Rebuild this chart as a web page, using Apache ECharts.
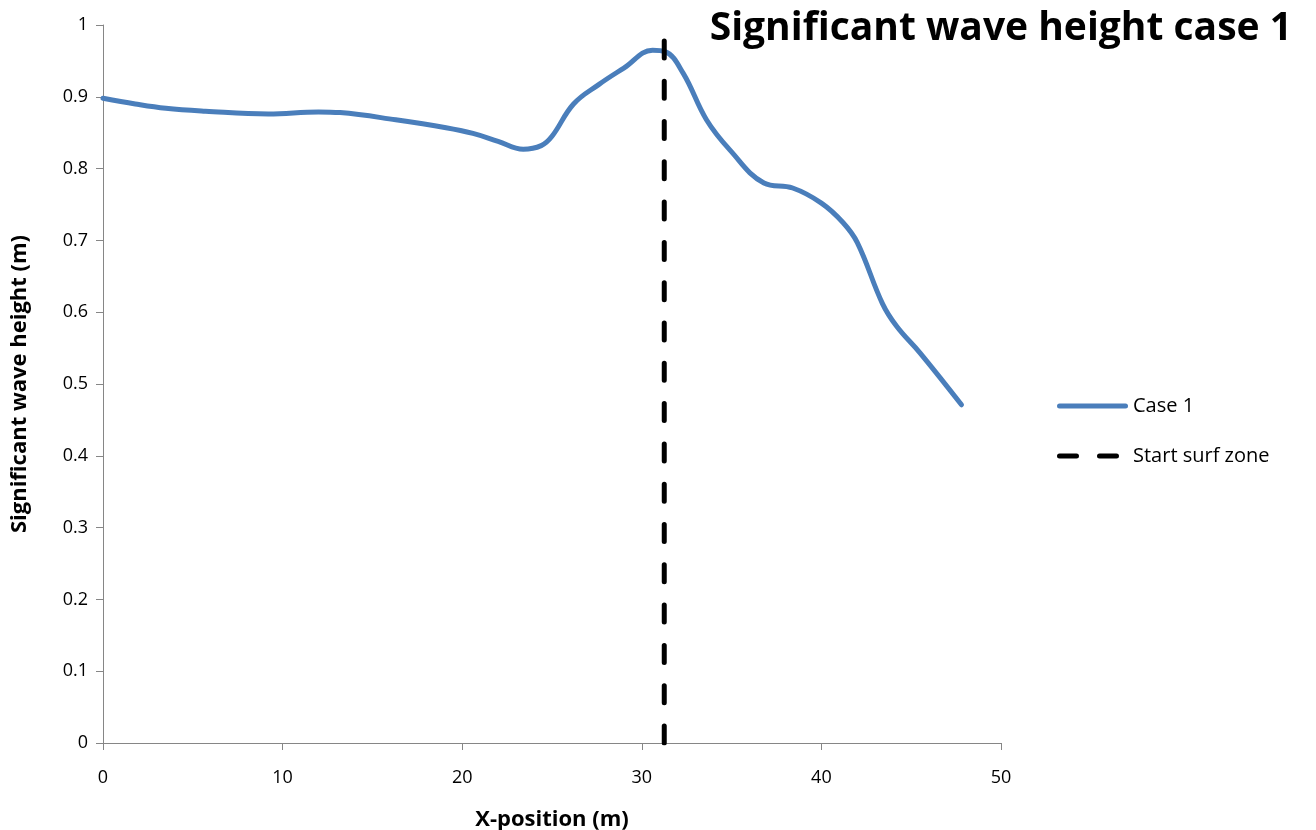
<!DOCTYPE html>
<html>
<head>
<meta charset="utf-8">
<title>Significant wave height case 1</title>
<script src="https://cdn.jsdelivr.net/npm/echarts@6/dist/echarts.min.js"></script>
<style>
  html, body { margin: 0; padding: 0; background: #ffffff; }
  #chart { width: 1316px; height: 830px; }
</style>
</head>
<body>
<div id="chart"></div>
<script>
// Cross-shore position (m) and significant wave height (m), case 1
const xPosition = [0, 1.8, 3.5, 5.7, 9.2, 12.0, 13.2, 16.3, 19.1, 20.6, 22.0, 23.4, 24.4, 25.0,
  26.2, 27.6, 29.0, 30.6, 31.3, 32.3, 33.6, 34.9, 36.8, 38.4, 40.0, 41.2, 42.0, 43.4, 44.2, 45.5, 47.8];
const waveHeight = [0.898, 0.890, 0.884, 0.880, 0.876, 0.879, 0.878, 0.868, 0.857, 0.849, 0.838, 0.827, 0.832, 0.845,
  0.890, 0.917, 0.940, 0.965, 0.963, 0.933, 0.868, 0.826, 0.780, 0.773, 0.752, 0.725, 0.697, 0.612, 0.580, 0.543, 0.471];

// Start of the surf zone (vertical marker)
const surfZoneX = [31.25, 31.25];
const surfZoneY = [0, 0.978];

const xTicks = [0, 10, 20, 30, 40, 50];
const yTicks = [0, 0.1, 0.2, 0.3, 0.4, 0.5, 0.6, 0.7, 0.8, 0.9, 1];

const font = '"Open Sans", "Noto Sans", sans-serif';
const axisGray = '#868686';
const blue = '#4a7ebb';

// Legend swatches: a solid rounded bar and two rounded dashes
const solidIcon = 'path://M2.5,0 h66 a2.5,2.5 0 0 1 0,5 h-66 a2.5,2.5 0 0 1 0,-5 z';
const dashIcon = 'path://M2.5,0 h17 a2.5,2.5 0 0 1 0,5 h-17 a2.5,2.5 0 0 1 0,-5 z ' +
  'M42.5,0 h17 a2.5,2.5 0 0 1 0,5 h-17 a2.5,2.5 0 0 1 0,-5 z M71,0 L71,5 L71,0 z';

const chart = echarts.init(document.getElementById('chart'));

chart.setOption({
  animation: false,
  backgroundColor: '#ffffff',
  title: {
    text: 'Significant wave height case 1',
    right: 19,
    top: 4,
    textStyle: { fontFamily: font, fontWeight: 'bold', fontSize: 39, color: '#000000' }
  },
  legend: {
    orient: 'vertical',
    left: 1052,
    top: 391,
    itemWidth: 71,
    itemHeight: 5,
    itemGap: 30,
    textStyle: { fontFamily: font, fontSize: 20, color: '#000000' },
    data: [
      { name: 'Case 1', icon: solidIcon, itemStyle: { color: blue } },
      { name: 'Start surf zone', icon: dashIcon, itemStyle: { color: '#000000' } }
    ]
  },
  grid: { left: 103, right: 315, top: 25, bottom: 87, containLabel: false, outerBoundsMode: 'none' },
  xAxis: {
    type: 'value',
    min: xTicks[0],
    max: xTicks[xTicks.length - 1],
    interval: 10,
    name: 'X-position (m)',
    nameLocation: 'middle',
    nameGap: 66,
    nameTextStyle: { fontFamily: font, fontWeight: 'bold', fontSize: 22, color: '#000000' },
    axisLine: { show: true, onZero: false, lineStyle: { color: axisGray, width: 1 } },
    axisTick: { show: true, inside: false, length: 7, lineStyle: { color: axisGray } },
    axisLabel: { fontFamily: font, fontSize: 18, color: '#000000', margin: 26 },
    splitLine: { show: false }
  },
  yAxis: {
    type: 'value',
    min: yTicks[0],
    max: yTicks[yTicks.length - 1],
    interval: 0.1,
    name: 'Significant wave height (m)',
    nameLocation: 'middle',
    nameGap: 72,
    nameTextStyle: { fontFamily: font, fontWeight: 'bold', fontSize: 22, color: '#000000' },
    axisLine: { show: true, lineStyle: { color: axisGray, width: 1 } },
    axisTick: { show: true, inside: false, length: 7, lineStyle: { color: axisGray } },
    axisLabel: {
      fontFamily: font, fontSize: 18, color: '#000000', margin: 15,
      formatter: v => String(Math.round(v * 10) / 10)
    },
    splitLine: { show: false }
  },
  series: [
    {
      name: 'Case 1',
      type: 'line',
      smooth: 0.4,
      symbol: 'none',
      data: xPosition.map((x, i) => [x, waveHeight[i]]),
      lineStyle: { color: blue, width: 5, cap: 'round', join: 'round' },
      itemStyle: { color: blue },
      z: 3
    },
    {
      name: 'Start surf zone',
      type: 'line',
      symbol: 'none',
      data: surfZoneX.map((x, i) => [x, surfZoneY[i]]),
      lineStyle: { color: '#000000', width: 5, type: [17, 23.3], cap: 'round' },
      itemStyle: { color: '#000000' },
      z: 4
    }
  ]
});
</script>
</body>
</html>
